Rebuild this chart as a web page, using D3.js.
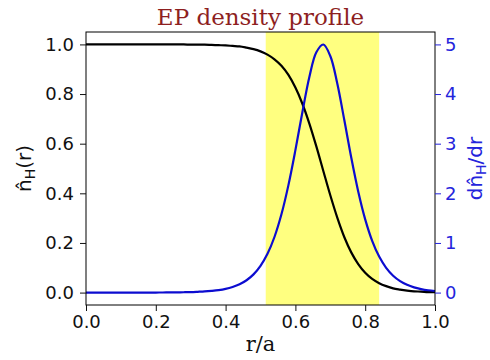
<!DOCTYPE html>
<html>
<head>
<meta charset="utf-8">
<script src="https://cdn.jsdelivr.net/npm/d3@7"></script>
<style>
  html, body { margin: 0; padding: 0; background: #fff; }
  svg { display: block; }
</style>
</head>
<body>
<svg id="chart" width="490" height="360"></svg>
<script>
// ---- data ----
const rValues = [0.00,0.02,0.04,0.06,0.08,0.10,0.12,0.14,0.16,0.18,
                 0.20,0.22,0.24,0.26,0.28,0.30,0.32,0.34,0.36,0.38,
                 0.40,0.42,0.44,0.46,0.48,0.50,0.52,0.54,0.56,0.58,
                 0.60,0.62,0.64,0.66,0.68,0.70,0.72,0.74,0.76,0.78,
                 0.80,0.82,0.84,0.86,0.88,0.90,0.92,0.94,0.96,0.98,1.00];
const densityValues = [1.000,1.000,1.000,1.000,1.000,1.000,1.000,1.000,1.000,1.000,
                       1.000,1.000,1.000,1.000,1.000,0.999,0.999,0.999,0.998,0.997,
                       0.996,0.994,0.992,0.987,0.981,0.972,0.959,0.940,0.914,0.877,
                       0.826,0.761,0.681,0.589,0.490,0.392,0.302,0.224,0.162,0.115,
                       0.080,0.055,0.038,0.026,0.017,0.012,0.008,0.005,0.004,0.002,0.002];
const gradientValues = [0.000,0.000,0.000,0.000,0.000,0.000,0.000,0.000,0.001,0.001,
                        0.001,0.002,0.003,0.005,0.007,0.010,0.016,0.023,0.035,0.051,
                        0.076,0.114,0.168,0.249,0.367,0.538,0.781,1.120,1.577,2.165,
                        2.870,3.634,4.342,4.841,4.998,4.766,4.212,3.481,2.721,2.037,
                        1.475,1.043,0.725,0.499,0.340,0.231,0.156,0.105,0.071,0.047,0.032];
const bandRange = [0.515, 0.84];
const xTicks = [0.0, 0.2, 0.4, 0.6, 0.8, 1.0];
const yLeftTicks = [0.0, 0.2, 0.4, 0.6, 0.8, 1.0];
const yRightTicks = [0, 1, 2, 3, 4, 5];
const titleText = "EP density profile";
const xLabelText = "r/a";

// ---- layout ----
const svg = d3.select("#chart");
const L = 86, R = 435, T = 32, B = 305;
const blueLine = "#0c0cd0";
const blueText = "#2424dc";

const x = d3.scaleLinear().domain([0.0, 1.0]).range([L, R]);
const yL = d3.scaleLinear().domain([-0.05, 1.05]).range([B, T]);
const yR = d3.scaleLinear().domain([-0.25, 5.25]).range([B, T]);

// highlight band
svg.append("rect")
  .attr("x", x(bandRange[0]))
  .attr("y", T)
  .attr("width", x(bandRange[1]) - x(bandRange[0]))
  .attr("height", B - T)
  .attr("fill", "#ffff80");

const pts = rValues.map((r, i) => ({ r, n: densityValues[i], d: gradientValues[i] }));

svg.append("path")
  .datum(pts)
  .attr("fill", "none")
  .attr("stroke", "#000")
  .attr("stroke-width", 2.2)
  .attr("d", d3.line().x(p => x(p.r)).y(p => yL(p.n)).curve(d3.curveCatmullRom.alpha(0.5)));

svg.append("path")
  .datum(pts)
  .attr("fill", "none")
  .attr("stroke", blueLine)
  .attr("stroke-width", 2.2)
  .attr("d", d3.line().x(p => x(p.r)).y(p => yR(p.d)).curve(d3.curveCatmullRom.alpha(0.5)));

// frame
svg.append("rect")
  .attr("x", L).attr("y", T)
  .attr("width", R - L).attr("height", B - T)
  .attr("fill", "none").attr("stroke", "#000").attr("stroke-width", 1);

const tickFont = "DejaVu Sans, sans-serif";

// bottom axis
const gx = svg.append("g").attr("transform", `translate(0,${B})`)
  .call(d3.axisBottom(x).tickValues(xTicks).tickFormat(d3.format(".1f"))
        .tickSize(6).tickSizeOuter(0).tickPadding(4));
// left axis
const gyl = svg.append("g").attr("transform", `translate(${L},0)`)
  .call(d3.axisLeft(yL).tickValues(yLeftTicks).tickFormat(d3.format(".1f"))
        .tickSize(6).tickSizeOuter(0).tickPadding(6));
// right axis
const gyr = svg.append("g").attr("transform", `translate(${R},0)`)
  .call(d3.axisRight(yR).tickValues(yRightTicks).tickFormat(d3.format("d"))
        .tickSize(6).tickSizeOuter(0).tickPadding(4));

[gx, gyl, gyr].forEach(g => {
  g.select(".domain").remove();
  g.selectAll("text").attr("font-family", tickFont).attr("font-size", 18).attr("fill", "#111");
  g.selectAll("line").attr("stroke", "#111");
});
gyr.selectAll("text").attr("fill", blueText);
gyr.selectAll("line").attr("stroke", blueText);

// title
svg.append("text")
  .attr("x", (L + R) / 2).attr("y", 25)
  .attr("text-anchor", "middle")
  .attr("font-family", "DejaVu Serif, serif")
  .attr("font-size", 23)
  .attr("fill", "#8e1f1f")
  .text(titleText);

// x label
svg.append("text")
  .attr("x", (L + R) / 2).attr("y", 351)
  .attr("text-anchor", "middle")
  .attr("font-family", "DejaVu Serif, serif")
  .attr("font-size", 21)
  .attr("fill", "#111")
  .text(xLabelText);

// left y label: n̂_H(r)
const ylab = svg.append("text")
  .attr("transform", `translate(31,${(T + B) / 2}) rotate(-90)`)
  .attr("text-anchor", "middle")
  .attr("font-family", "DejaVu Sans, sans-serif")
  .attr("font-size", 20)
  .attr("fill", "#111");
ylab.append("tspan").text("n\u0302");
ylab.append("tspan").attr("font-size", 14).attr("dy", 4).text("H");
ylab.append("tspan").attr("dy", -4).text("(r)");

// right y label: dn̂_H/dr
const yrlab = svg.append("text")
  .attr("transform", `translate(482,${(T + B) / 2}) rotate(-90)`)
  .attr("text-anchor", "middle")
  .attr("font-family", "DejaVu Sans, sans-serif")
  .attr("font-size", 20)
  .attr("fill", blueText);
yrlab.append("tspan").text("dn\u0302");
yrlab.append("tspan").attr("font-size", 14).attr("dy", 4).text("H");
yrlab.append("tspan").attr("dy", -4).text("/dr");
</script>
</body>
</html>
